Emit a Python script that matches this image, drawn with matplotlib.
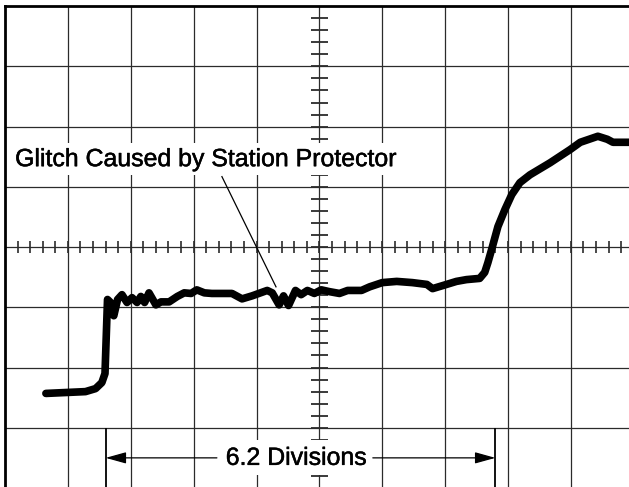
import numpy as np
import matplotlib.pyplot as plt
import matplotlib.patheffects as pe

# Scope trace, in graticule divisions (0,0 is the centre of the screen)
trace_t = [-4.35, -3.72, -3.56, -3.46, -3.41, -3.40, -3.37, -3.33, -3.27, -3.21,
           -3.14, -3.06, -2.98, -2.90, -2.84, -2.78, -2.71, -2.60, -2.52, -2.39,
           -2.26, -2.15, -2.04, -1.95, -1.83, -1.71, -1.39, -1.23, -1.07, -0.83,
           -0.75, -0.64, -0.57, -0.49, -0.38, -0.29, -0.19, -0.08, 0.03, 0.16,
           0.32, 0.45, 0.67, 0.80, 1.00, 1.23, 1.48, 1.71, 1.80, 1.96,
           2.18, 2.34, 2.55, 2.63, 2.68, 2.74, 2.84, 2.95, 3.06, 3.19,
           3.35, 3.67, 3.99, 4.15, 4.43, 4.58, 4.67, 4.95]
trace_v = [-2.43, -2.40, -2.35, -2.25, -2.10, -1.79, -0.87, -0.91, -1.14, -0.87,
           -0.79, -0.92, -0.84, -0.92, -0.82, -0.92, -0.76, -0.96, -0.91, -0.91,
           -0.82, -0.76, -0.77, -0.71, -0.76, -0.77, -0.77, -0.86, -0.81, -0.72,
           -0.76, -0.96, -0.81, -0.97, -0.72, -0.79, -0.72, -0.77, -0.71, -0.74,
           -0.77, -0.72, -0.72, -0.66, -0.59, -0.57, -0.59, -0.62, -0.69, -0.64,
           -0.57, -0.54, -0.52, -0.42, -0.26, -0.04, 0.34, 0.62, 0.87, 1.07,
           1.20, 1.40, 1.62, 1.74, 1.84, 1.79, 1.74, 1.74]

glitch_label = "Glitch Caused by Station Protector"
span_start = -3.40
span_divs = 6.2
span_label = "6.2 Divisions"

font = "Liberation Sans"
grid_col = "#2b2b2b"
heavy = [pe.withStroke(linewidth=0.35, foreground="black")]

fig = plt.figure(figsize=(6.29, 4.87), dpi=100)
ax = fig.add_axes([0.008, -0.002, 0.9995, 0.9893])
ax.set_xlim(-5, 5)
ax.set_ylim(-4, 4)
ax.set_xticks([])
ax.set_yticks([])

for s in ["right", "bottom"]:
    ax.spines[s].set_visible(False)
for s in ["top", "left"]:
    ax.spines[s].set_linewidth(2)
    ax.spines[s].set_zorder(5)

# graticule
for x in range(-4, 5):
    ax.axvline(x, color=grid_col, lw=0.9, zorder=1)
for y in range(-3, 4):
    ax.axhline(y, color=grid_col, lw=0.9, zorder=1)

# minor marks on the centre lines
xs = np.arange(-5, 5.01, 0.2)
ax.vlines(xs, -0.1, 0.1, color=grid_col, lw=1.2, zorder=1)
ys = np.arange(-4, 4.01, 0.2)
ax.hlines(ys, -0.13, 0.13, color=grid_col, lw=1.3, zorder=1)

# the trace
ax.plot(trace_t, trace_v, color="black", lw=5.5,
        solid_joinstyle="round", solid_capstyle="round", zorder=4)

# glitch callout
ax.text(-4.84, 1.46, glitch_label, fontsize=17.9, family=font,
        ha="left", va="center", zorder=3, path_effects=heavy,
        bbox=dict(facecolor="white", edgecolor="none", pad=3))
ax.plot([-1.55, -0.69], [1.17, -0.66], color="black", lw=0.9, zorder=3.5)

# rise-to-rise span
span_end = span_start + span_divs
ax.vlines([span_start, span_end], -4, -3, color="black", lw=1.3, zorder=3)
ax.text(-0.37, -3.5, span_label, fontsize=17.9, family=font,
        ha="center", va="center", zorder=3, path_effects=heavy,
        bbox=dict(facecolor="white", edgecolor="none", pad=4))
arrow = dict(arrowstyle="-|>,head_length=0.9,head_width=0.25",
             color="black", lw=0.9, mutation_scale=14, shrinkA=0, shrinkB=0)
ax.annotate("", xy=(span_start, -3.5), xytext=(-1.63, -3.5),
            arrowprops=arrow, zorder=3)
ax.annotate("", xy=(span_end, -3.5), xytext=(0.85, -3.5),
            arrowprops=arrow, zorder=3)

fig.savefig("out.png", dpi=100)
